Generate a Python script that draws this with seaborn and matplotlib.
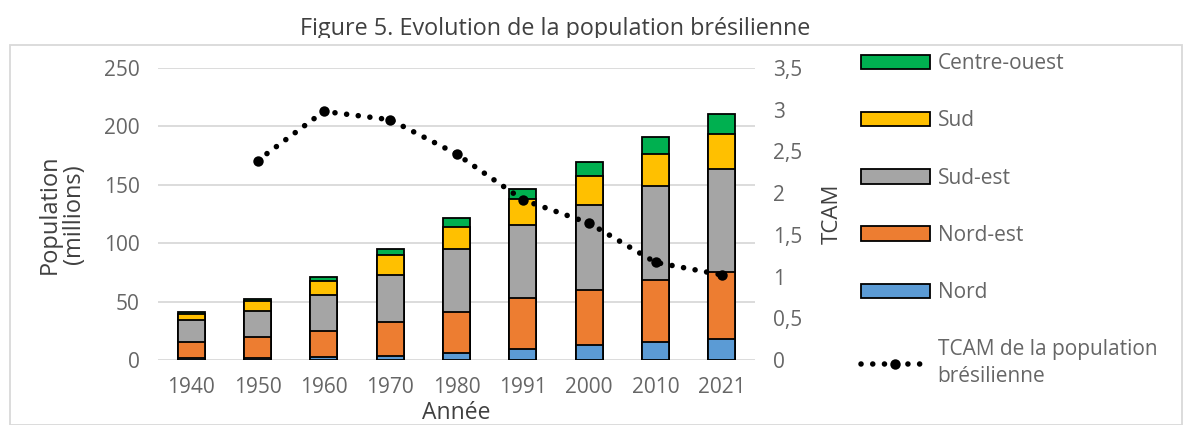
import numpy as np
import pandas as pd
import seaborn as sns
import matplotlib.pyplot as plt
from matplotlib.patches import Patch, Rectangle
from matplotlib.lines import Line2D
from matplotlib.ticker import FuncFormatter
from matplotlib.transforms import Bbox, TransformedBbox

annees = ["1940", "1950", "1960", "1970", "1980", "1991", "2000", "2010", "2021"]
nord = [1.5, 1.8, 2.6, 3.7, 6.3, 9.7, 12.6, 15.5, 18.0]
nord_est = [13.7, 17.7, 22.3, 28.4, 35.2, 43.0, 47.6, 53.3, 57.4]
sud_est = [18.6, 22.6, 31.0, 40.4, 53.1, 62.5, 72.5, 80.2, 88.5]
sud = [5.5, 8.0, 11.4, 17.2, 19.2, 22.3, 24.9, 27.5, 29.5]
centre_ouest = [1.7, 2.0, 3.5, 4.9, 7.4, 9.2, 12.0, 14.3, 16.9]
tcam = [np.nan, 2.39, 2.98, 2.88, 2.47, 1.92, 1.64, 1.17, 1.02]

regions = ["Nord", "Nord-est", "Sud-est", "Sud", "Centre-ouest"]
couleurs = ["#5B9BD5", "#ED7D31", "#A5A5A5", "#FFC000", "#00B050"]
gris = "#666666"
fonce = "#404040"

df = pd.DataFrame({"Année": annees, "Nord": nord, "Nord-est": nord_est,
                   "Sud-est": sud_est, "Sud": sud, "Centre-ouest": centre_ouest})
cumul = df[regions].cumsum(axis=1)

sns.set_style("white")
plt.rcParams['font.family'] = ['Open Sans', 'DejaVu Sans']

fig = plt.figure(figsize=(11.83, 4.25), dpi=100)
ax = fig.add_axes([0.1336, 0.153, 0.5046, 0.687])

# barres empilées : totaux cumulés dessinés du haut vers le bas
for reg, col in zip(regions[::-1], couleurs[::-1]):
    sns.barplot(x=df["Année"], y=cumul[reg], color=col, saturation=1, width=0.41,
                edgecolor="black", linewidth=1.3, ax=ax, zorder=2)

ax.set_ylim(0, 250)
ax.set_yticks(range(0, 251, 50))
ax.grid(axis="y", color="#d9d9d9", linewidth=1.3, zorder=0)
ax.set_axisbelow(True)
for s in ax.spines.values():
    s.set_visible(False)
ax.tick_params(axis="both", length=0, labelsize=15, labelcolor=gris)
ax.tick_params(axis="x", pad=12)
ax.tick_params(axis="y", pad=13)
ax.set_xlabel("Année", fontsize=16.5, color=fonce, va="center")
ax.xaxis.set_label_coords(0.5, -0.182)
ax.set_ylabel("Population\n(millions)", fontsize=17, color=fonce, va="center",
              linespacing=1.05)
ax.yaxis.set_label_coords(-0.161, 0.5)

ax2 = ax.twinx()
pos = np.arange(len(annees))
sns.lineplot(x=pos, y=tcam, ax=ax2, color="black", linewidth=4,
             linestyle=(0, (0.01, 2.1)), dash_capstyle="round",
             marker="o", markersize=7.5, markeredgewidth=0, zorder=3)
ax2.set_ylim(0, 3.5)
ax2.set_yticks(np.arange(0, 3.51, 0.5))
ax2.yaxis.set_major_formatter(FuncFormatter(
    lambda v, p: ("%g" % v).replace(".", ",")))
for s in ax2.spines.values():
    s.set_visible(False)
ax2.tick_params(axis="y", length=0, labelsize=15, labelcolor=gris, pad=13)
ax2.set_ylabel("TCAM", fontsize=16, color=fonce, va="center")
ax2.yaxis.set_label_coords(1.129, 0.5)
ax.set_xlim(-0.5, len(annees) - 0.5)

handles = [Patch(facecolor=c, edgecolor="black", linewidth=1.3)
           for c in couleurs[::-1]]
handles.append(Line2D([0], [0], color="black", linewidth=4, linestyle=(0, (0.01, 2.1)),
                      dash_capstyle="round", marker="o", markersize=7.5,
                      markeredgewidth=0))
labels = regions[::-1] + ["TCAM de la population\nbrésilienne"]
leg = fig.legend(handles, labels, loc="upper left", bbox_to_anchor=(0.712, 0.919),
                 frameon=False, fontsize=15, labelspacing=1.74, handlelength=3.3,
                 handleheight=0.7, handletextpad=0.38)
for t in leg.get_texts():
    t.set_color(gris)
    t.set_linespacing(1.35)

fig.patches.append(Rectangle((10 / 1183, 0), 1 - 11 / 1183, 380 / 425,
                             transform=fig.transFigure, fill=False,
                             edgecolor="#d9d9d9", linewidth=1.3))
titre = fig.text(0.469, 1 - 35 / 425, "Figure 5. Evolution de la population brésilienne",
                 ha="center", va="baseline", fontsize=16.8, color=fonce)
titre.set_clip_box(TransformedBbox(Bbox([[0, 1 - 37.5 / 425], [1, 1]]), fig.transFigure))
titre.set_clip_on(True)

fig.savefig("out.png", dpi=100)
